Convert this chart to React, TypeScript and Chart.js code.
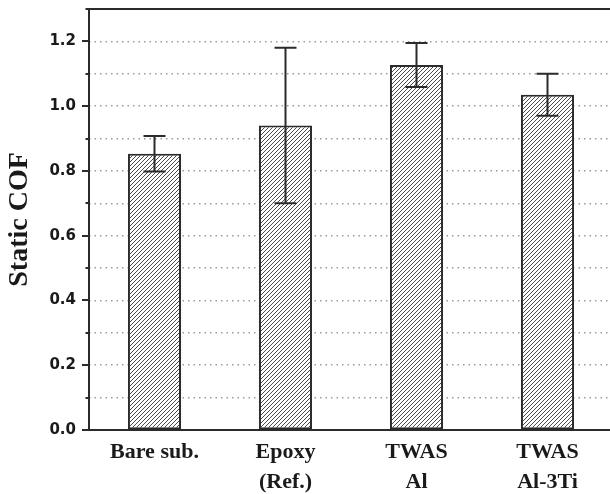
import React, { useEffect, useRef } from "react";
import { Chart, registerables } from "chart.js";

Chart.register(...registerables);

// Static coefficient of friction per surface condition
const categories: (string | string[])[] = [
  "Bare sub.",
  ["Epoxy", "(Ref.)"],
  ["TWAS", "Al"],
  ["TWAS", "Al-3Ti"],
];
const cofMean = [0.853, 0.94, 1.127, 1.035];
const cofErr = [0.055, 0.24, 0.068, 0.065];

const yMin = 0;
const yMax = 1.3;
const yStep = 0.1;

const INK = "#2b2b2b";

function makeHatch(): CanvasPattern | string {
  const s = 4;
  const c = document.createElement("canvas");
  c.width = s;
  c.height = s;
  const g = c.getContext("2d");
  if (!g) return "#bbb";
  g.fillStyle = "#ffffff";
  g.fillRect(0, 0, s, s);
  g.strokeStyle = "#4a4a4a";
  g.lineWidth = 1;
  g.beginPath();
  g.moveTo(-1, s + 1);
  g.lineTo(s + 1, -1);
  g.moveTo(-1, 1);
  g.lineTo(1, -1);
  g.moveTo(s - 1, s + 1);
  g.lineTo(s + 1, s - 1);
  g.stroke();
  const p = g.createPattern(c, "repeat");
  return p || "#bbb";
}

const isMajor = (v: number) => Math.round(v * 10) % 2 === 0;

// Error bars with caps, plus frame and y tick marks
const decorations = {
  id: "decorations",
  afterDatasetsDraw(chart: any) {
    const { ctx } = chart;
    const ys = chart.scales.y;
    const meta = chart.getDatasetMeta(0);
    ctx.save();
    ctx.strokeStyle = INK;
    ctx.lineWidth = 2;
    meta.data.forEach((bar: any, i: number) => {
      const x = bar.x;
      const hi = ys.getPixelForValue(cofMean[i] + cofErr[i]);
      const lo = ys.getPixelForValue(cofMean[i] - cofErr[i]);
      const cap = 11;
      ctx.beginPath();
      ctx.moveTo(x, hi);
      ctx.lineTo(x, lo);
      ctx.moveTo(x - cap, hi);
      ctx.lineTo(x + cap, hi);
      ctx.moveTo(x - cap, lo);
      ctx.lineTo(x + cap, lo);
      ctx.stroke();
    });
    ctx.restore();
  },
  afterDraw(chart: any) {
    const { ctx, chartArea: a } = chart;
    const ys = chart.scales.y;
    ctx.save();
    ctx.strokeStyle = INK;
    ctx.lineWidth = 2;
    ctx.strokeRect(a.left, a.top, a.right - a.left, a.bottom - a.top);
    ctx.beginPath();
    ys.ticks.forEach((t: any) => {
      const y = Math.round(ys.getPixelForValue(t.value));
      const len = isMajor(t.value) ? 7 : 3.5;
      ctx.moveTo(a.left - len, y);
      ctx.lineTo(a.left, y);
    });
    ctx.stroke();
    ctx.restore();
  },
};

export default function App() {
  const ref = useRef<HTMLCanvasElement | null>(null);

  useEffect(() => {
    document.body.style.margin = "0";
    document.body.style.overflow = "hidden";
    const canvas = ref.current;
    if (!canvas) return;
    const hatch = makeHatch();
    const chart = new Chart(canvas, {
      type: "bar",
      data: {
        labels: categories,
        datasets: [
          {
            data: cofMean,
            backgroundColor: hatch as any,
            borderColor: INK,
            borderWidth: 2,
            borderSkipped: false,
            categoryPercentage: 1,
            barPercentage: 0.405,
          },
        ],
      },
      options: {
        responsive: false,
        animation: false,
        devicePixelRatio: 1,
        layout: { padding: { top: 9, right: 3, bottom: 0, left: 0 } },
        plugins: {
          legend: { display: false },
          tooltip: { enabled: false },
        },
        scales: {
          x: {
            type: "category",
            offset: true,
            grid: { display: false, drawTicks: false },
            border: { display: false },
            ticks: {
              autoSkip: false,
              maxRotation: 0,
              minRotation: 0,
              padding: 7,
              color: "#1a1a1a",
              font: { family: "'Liberation Serif', 'Times New Roman', serif", size: 22, weight: "bold", lineHeight: 1.36 },
            },
            afterFit: (s: any) => {
              s.height = 64;
              s.paddingLeft = 0;
              s.paddingRight = 0;
            },
          },
          y: {
            min: yMin,
            max: yMax,
            grid: {
              drawTicks: false,
              lineWidth: 1.5,
              color: (c: any) => {
                const v = c.tick ? c.tick.value : 0;
                if (v <= yMin + 1e-6 || v >= yMax - 1e-6) return "rgba(0,0,0,0)";
                return "#9a9a9a";
              },
            },
            border: { display: false, dash: [1.5, 4] },
            ticks: {
              stepSize: yStep,
              padding: 13,
              color: "#1a1a1a",
              font: { family: "'DejaVu Sans', Arial, sans-serif", size: 15, weight: "bold" },
              callback: (v: any) => (isMajor(Number(v)) ? Number(v).toFixed(1) : ""),
            },
            title: {
              display: true,
              text: "Static COF",
              color: "#1a1a1a",
              padding: { top: 3, bottom: 0 },
              font: { family: "'Liberation Serif', 'Times New Roman', serif", size: 28, weight: "bold" },
            },
            afterFit: (s: any) => {
              s.width = 89;
              s.paddingTop = 0;
              s.paddingBottom = 0;
            },
          },
        },
      },
      plugins: [decorations],
    });
    return () => chart.destroy();
  }, []);

  return (
    <div style={{ width: 610, height: 494, overflow: "hidden", background: "#fff" }}>
      <canvas ref={ref} width={616} height={494} style={{ display: "block" }} />
    </div>
  );
}
